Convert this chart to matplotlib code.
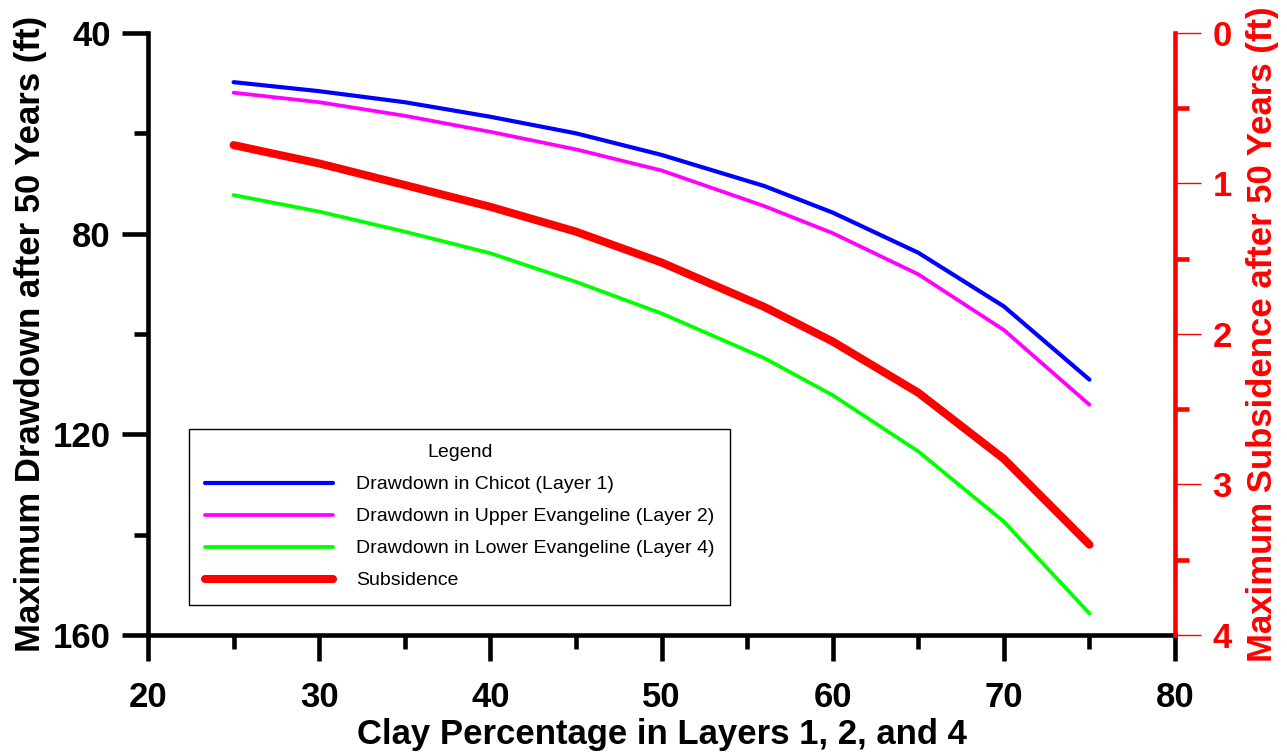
import numpy as np
import matplotlib
matplotlib.use("Agg")
import matplotlib.pyplot as plt
from matplotlib.ticker import MultipleLocator

plt.rcParams['font.family'] = ['Liberation Sans', 'DejaVu Sans']

# data
clay = [25, 30, 35, 40, 45, 50, 56, 60, 65, 70, 75]
chicot = [49.8, 51.6, 53.8, 56.7, 60.0, 64.3, 70.5, 75.8, 83.8, 94.5, 109.1]
upper_evang = [51.9, 53.8, 56.5, 59.7, 63.2, 67.4, 74.5, 79.9, 88.1, 99.2, 114.1]
lower_evang = [72.3, 75.6, 79.6, 83.9, 89.6, 95.9, 104.8, 112.2, 123.4, 137.4, 155.7]
subsidence = [0.745, 0.867, 1.01, 1.155, 1.32, 1.525, 1.82, 2.05, 2.39, 2.83, 3.40]

labels = ["Drawdown in Chicot (Layer 1)",
          "Drawdown in Upper Evangeline (Layer 2)",
          "Drawdown in Lower Evangeline (Layer 4)",
          "Subsidence"]

fig = plt.figure(figsize=(12.87, 7.53), dpi=100)
ax = fig.add_axes([0.115, 0.1567, 0.798, 0.7995])
ax2 = ax.twinx()

l1, = ax.plot(clay, chicot, color='#0000FF', lw=3.0, solid_capstyle='round', solid_joinstyle='round')
l2, = ax.plot(clay, upper_evang, color='#FF00FF', lw=2.7, solid_capstyle='round', solid_joinstyle='round')
l3, = ax.plot(clay, lower_evang, color='#00FF00', lw=2.7, solid_capstyle='round', solid_joinstyle='round')
l4, = ax2.plot(clay, subsidence, color='#FF0000', lw=5.8, solid_capstyle='round', solid_joinstyle='round')

ax.set_xlim(20, 80)
ax.set_ylim(160, 40)
ax2.set_ylim(4, 0)

ax.xaxis.set_major_locator(MultipleLocator(10))
ax.xaxis.set_minor_locator(MultipleLocator(5))
ax.yaxis.set_major_locator(MultipleLocator(40))
ax.yaxis.set_minor_locator(MultipleLocator(20))
ax2.yaxis.set_major_locator(MultipleLocator(1))
ax2.yaxis.set_minor_locator(MultipleLocator(0.5))

for a in (ax, ax2):
    a.spines['top'].set_visible(False)
ax.spines['right'].set_visible(False)
ax.spines['left'].set_linewidth(3.3)
ax.spines['bottom'].set_linewidth(3.3)
ax2.spines['left'].set_visible(False)
ax2.spines['bottom'].set_visible(False)
ax2.spines['right'].set_linewidth(3.3)
ax2.spines['right'].set_color('#FF0000')

ax.tick_params(axis='both', which='major', direction='out', length=19, width=3.3,
               labelsize=25, pad=8)
ax.tick_params(axis='both', which='minor', direction='out', length=10, width=3.3)
ax.tick_params(axis='x', which='major', pad=14)
for t in ax.get_xticklabels() + ax.get_yticklabels():
    t.set_fontweight('bold')

ax2.tick_params(axis='y', which='major', direction='out', length=19, width=1.0,
                color='#FF0000', labelcolor='#FF0000', labelsize=25, pad=8)
ax2.tick_params(axis='y', which='minor', direction='out', length=10, width=3.3,
                color='#FF0000')
for t in ax2.get_yticklabels():
    t.set_fontweight('bold')

ax.set_xlabel("Clay Percentage in Layers 1, 2, and 4", fontsize=25, fontweight='bold',
              labelpad=3)
ax.set_ylabel("Maximum Drawdown after 50 Years (ft)", fontsize=25, fontweight='bold',
              labelpad=4)
ax2.set_ylabel("Maximum Subsidence after 50 Years (ft)", fontsize=25, fontweight='bold',
               color='#FF0000', labelpad=10)

leg = ax2.legend([l1, l2, l3, l4], labels, title="Legend", loc='lower left',
                 bbox_to_anchor=(0.040, 0.050), borderaxespad=0, fontsize=14,
                 title_fontsize=14, fancybox=False, framealpha=1, edgecolor='black',
                 handlelength=6.6, handletextpad=1.2, labelspacing=0.74,
                 borderpad=0.8)
leg.get_frame().set_linewidth(1.0)

fig.savefig("out.png", dpi=100)
